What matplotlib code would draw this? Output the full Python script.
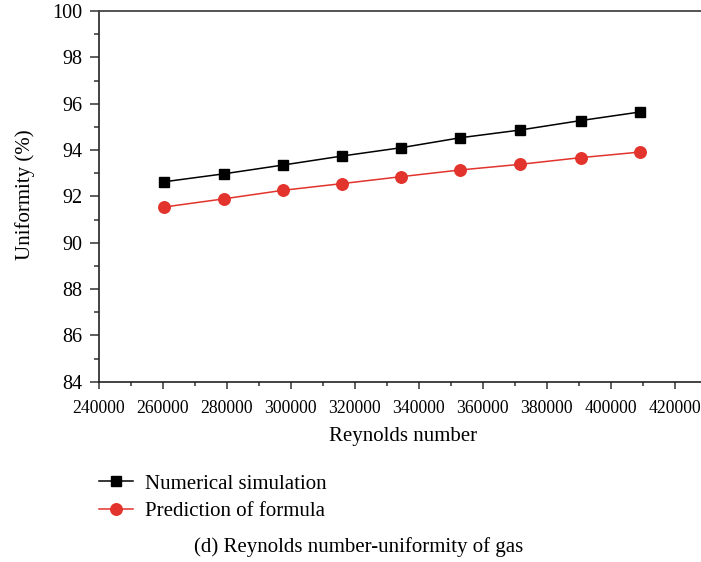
import matplotlib
matplotlib.use("Agg")
import matplotlib.pyplot as plt
from matplotlib.ticker import MultipleLocator
from matplotlib.lines import Line2D

reynolds = [260500, 279000, 297500, 316000, 334500, 353000, 371500, 390500, 409000]
numerical = [92.63, 92.97, 93.35, 93.74, 94.10, 94.53, 94.86, 95.27, 95.64]
formula = [91.54, 91.89, 92.26, 92.55, 92.85, 93.14, 93.38, 93.67, 93.91]
xticks = [240000, 260000, 280000, 300000, 320000, 340000, 360000, 380000, 400000, 420000]
yticks = [84, 86, 88, 90, 92, 94, 96, 98, 100]

plt.rcParams['font.family'] = ['Liberation Serif', 'DejaVu Serif']

W, H = 701, 562
fig = plt.figure(figsize=(W/100, H/100), dpi=100)
left, right, top, bottom = 98.7, 707.0, 11.0, 381.7
ax = fig.add_axes([left/W, 1-bottom/H, (right-left)/W, (bottom-top)/H])

red = '#e2332c'
ax.plot(reynolds, numerical, color='black', marker='s', markersize=7.8, lw=1.1,
        label='Numerical simulation')
ax.plot(reynolds, formula, color=red, marker='o', markersize=8.3, lw=1.1,
        label='Prediction of formula')

ax.set_xlim(240000, 430000)
ax.set_ylim(84, 100)
ax.set_xticks(xticks)
ax.set_xticklabels([str(v) for v in xticks])
ax.set_yticks(yticks)
ax.set_yticklabels([str(v) for v in yticks])
ax.xaxis.set_minor_locator(MultipleLocator(10000))
ax.yaxis.set_minor_locator(MultipleLocator(1))
ax.tick_params(axis='y', which='major', direction='out', length=6.5, width=1.1, color='#333333')
ax.tick_params(axis='y', which='minor', direction='out', length=3.6, width=1.1, color='#333333')
ax.tick_params(axis='x', which='major', direction='out', length=5, width=1.1, color='#333333')
ax.tick_params(axis='x', which='minor', direction='out', length=3, width=1.1, color='#333333')
ax.tick_params(axis='x', labelsize=12.7, pad=8)
ax.tick_params(axis='y', labelsize=14.5, pad=5)
for s in ['left', 'bottom']:
    ax.spines[s].set_linewidth(1.2)
    ax.spines[s].set_color('#222222')
ax.spines['top'].set_linewidth(1.3)
ax.spines['top'].set_color('#444444')
ax.spines['right'].set_visible(False)

fig.text(403/W, 1-436/H, 'Reynolds number', ha='center', va='center', fontsize=15)
fig.text(25/W, 1-195/H, 'Uniformity (%)', ha='center', va='center', rotation=90, fontsize=15)

handles = [Line2D([], [], color='black', marker='s', markersize=7.8, lw=1.1),
           Line2D([], [], color=red, marker='o', markersize=8.3, lw=1.1)]
fig.legend(handles, ['Numerical simulation', 'Prediction of formula'],
           loc='upper left', bbox_to_anchor=(98.7/W, 1-474/H), frameon=False,
           fontsize=15, handlelength=1.65, handletextpad=0.55, labelspacing=0.4,
           borderaxespad=0, borderpad=0)

fig.text(359/W, 1-547/H, '(d) Reynolds number-uniformity of gas', ha='center', va='center', fontsize=15)

fig.savefig('out.png', dpi=100)
